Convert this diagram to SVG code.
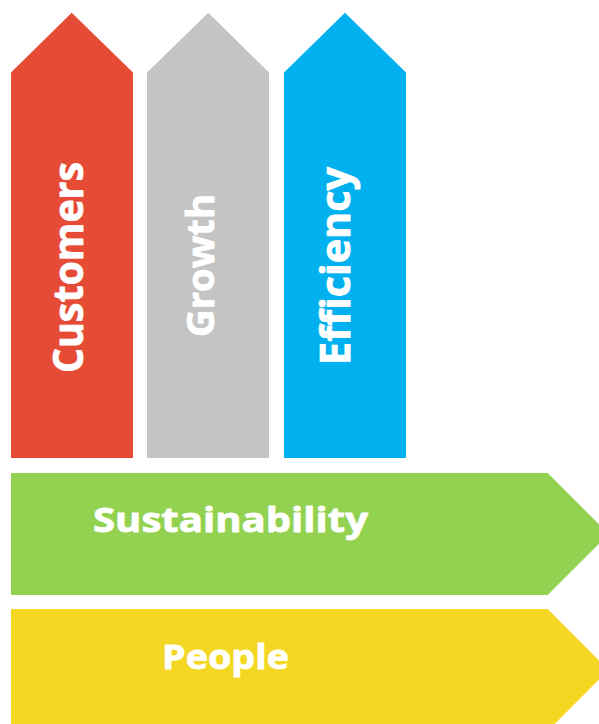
<svg xmlns="http://www.w3.org/2000/svg" width="599" height="724" viewBox="0 0 599 724">
<style>
.lbl{font-family:"Open Sans","Liberation Sans",sans-serif;font-weight:700;fill:#ffffff;stroke:#ffffff;stroke-width:0.8;stroke-linejoin:round}
</style>
<rect x="0" y="0" width="599" height="724" fill="#ffffff"/>
<g id="customers">
<polygon points="11,72.5 71.7,12.7 133,72.5 133,458 11,458" fill="#E64B36"/>
<text class="lbl" font-size="41" transform="translate(83,373) rotate(-90)" textLength="211" lengthAdjust="spacingAndGlyphs">Customers</text>
</g>
<g id="growth">
<polygon points="147,72.5 208.3,12.7 269,72.5 269,458 147,458" fill="#C4C4C4"/>
<text class="lbl" font-size="38" transform="translate(214,337) rotate(-90)" textLength="143" lengthAdjust="spacingAndGlyphs">Growth</text>
</g>
<g id="efficiency">
<polygon points="284,72.5 345,12.7 406,72.5 406,458 284,458" fill="#00B0EF"/>
<text class="lbl" font-size="41" transform="translate(350,365) rotate(-90)" textLength="198" lengthAdjust="spacingAndGlyphs">Efficiency</text>
</g>
<g id="sustainability">
<polygon points="11,473 547.7,473 608.7,534 547.7,595 11,595" fill="#93D250"/>
<text class="lbl" x="93" y="532" font-size="34" textLength="275" lengthAdjust="spacingAndGlyphs">Sustainability</text>
</g>
<g id="people">
<polygon points="11,609 547.7,609 608.5,670 547.7,731 11,731" fill="#F4D722"/>
<text class="lbl" x="162" y="669" font-size="34" textLength="127" lengthAdjust="spacingAndGlyphs">People</text>
</g>
<g id="connectors"/>
</svg>
